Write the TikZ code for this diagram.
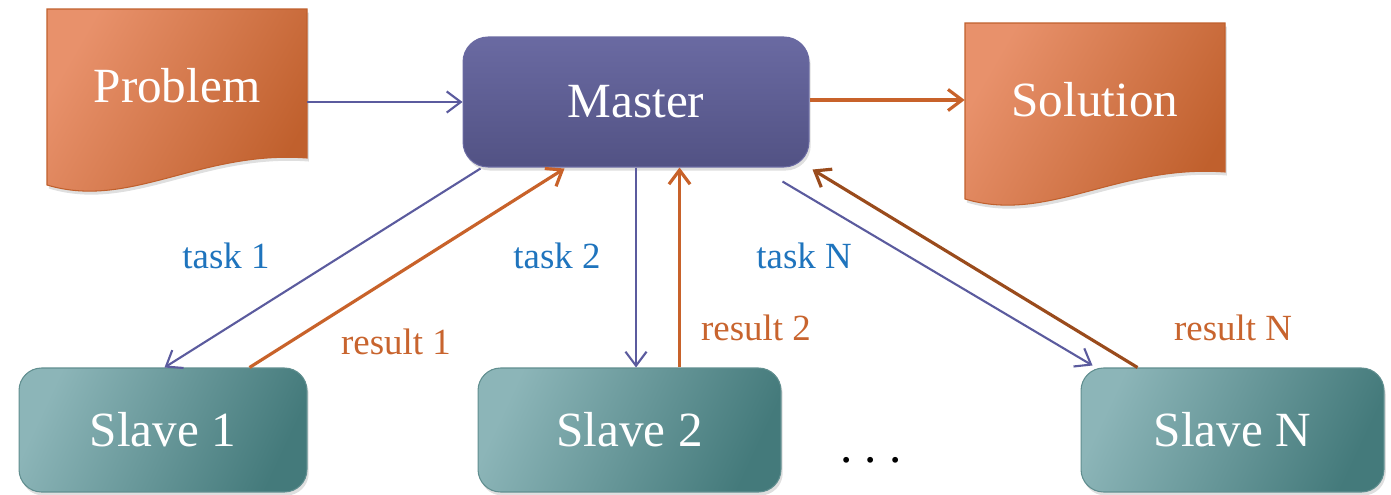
\documentclass[tikz,border=0pt]{standalone}
\usepackage{fontspec}
\setmainfont{Liberation Serif}
\usetikzlibrary{arrows.meta,calc,shadows}

\definecolor{docl}{HTML}{E8916B}
\definecolor{docd}{HTML}{C0602D}
\definecolor{slavel}{HTML}{8CB5B8}
\definecolor{slaved}{HTML}{447A7B}
\definecolor{mastert}{HTML}{6A6AA2}
\definecolor{masterm}{HTML}{58588B}
\definecolor{masterb}{HTML}{525284}
\definecolor{taskline}{HTML}{5B5B9E}
\definecolor{resline}{HTML}{C8622A}
\definecolor{resdark}{HTML}{9A4B1C}
\definecolor{tasktext}{HTML}{1F74BD}
\definecolor{restext}{HTML}{C8642E}

\begin{document}
\begin{tikzpicture}[x=0.02cm, y=-0.02cm,
  doc/.style={top color=docl, bottom color=docd, shading angle=60, draw=docd, line width=0.6pt,
    drop shadow={opacity=0.25, shadow xshift=1pt, shadow yshift=-2pt}},
  doclabel/.style={text=white, font=\fontsize{28}{32}\selectfont, minimum width=5.2cm, minimum height=2cm, inner sep=0pt},
  masterbox/.style={rounded corners=0.5cm, top color=mastert, middle color=masterm, bottom color=masterb,
    draw=mastert, line width=0.6pt, minimum width=6.92cm, minimum height=2.6cm, inner sep=0pt,
    text=white, font=\fontsize{28}{32}\selectfont,
    drop shadow={opacity=0.25, shadow xshift=1pt, shadow yshift=-2pt}},
  slavebox/.style={rounded corners=0.45cm, top color=slavel, bottom color=slaved, shading angle=65,
    draw=slaved!85!white, line width=0.6pt, minimum height=2.48cm, inner sep=0pt,
    text=white, font=\fontsize{28}{32}\selectfont,
    drop shadow={opacity=0.25, shadow xshift=1pt, shadow yshift=-2pt}},
  task/.style={draw=taskline, line width=1.2pt, -{Straight Barb[length=8pt,width=12pt]}},
  result/.style={draw=resline, line width=1.8pt, -{Straight Barb[length=8pt,width=12pt]}},
  tasklabel/.style={text=tasktext, font=\fontsize{21}{24}\selectfont},
  reslabel/.style={text=restext, font=\fontsize{21}{24}\selectfont}]
\useasboundingbox (0,0) rectangle (1391,494);

% documents
\foreach \nm/\txt/\dx/\dy in {problem/Problem/0/0, solution/Solution/918/14}{
  \shade[doc] (47+\dx,9+\dy) -- (307+\dx,9+\dy) -- (307+\dx,158+\dy)
    .. controls (200+\dx,150+\dy) and (130+\dx,210+\dy) .. (47+\dx,185+\dy) -- cycle;
  \node[doclabel] (\nm) at (177+\dx,86+\dy) {\txt};
}

% master and slaves
\node[masterbox] (master) at (636,102) {Master};
\node[slavebox, minimum width=5.76cm] (slaveone) at (163,430) {Slave 1};
\node[slavebox, minimum width=6.06cm] (slavetwo) at (629.5,430) {Slave 2};
\node[slavebox, minimum width=6.06cm] (slaven) at (1232.5,430) {Slave N};
\node[font=\fontsize{28}{32}\selectfont] (dots) at (871,460) {.\ .\ .};

\draw[task] (problem.east |- master.west) -- (master.west);
\draw[result] (master.east |- solution.west) -- (solution.west);

\coordinate (tone) at ($(master.south west)+(18,1)$);
\coordinate (rone) at ($(master.south west)+(102,1)$);
\coordinate (rtwo) at ($(slavetwo.north west)+(202,0)$);
\draw[task] (tone) -- ($(slaveone.north west)+(146,0)$);
\draw[result] ($(slaveone.north west)+(231,0)$) -- (rone);
\draw[task] (master.south) -- (master.south |- slavetwo.north);
\draw[result] (rtwo) -- (rtwo |- master.south);
\draw[task] ($(master.south east)+(-27,14)$) -- ($(slaven.north west)+(12,-2)$);
\draw[result, draw=resdark] ($(slaven.north west)+(57,0)$) -- ($(master.south east)+(3,2)$);

% labels
\node[tasklabel] (taskone) at (226,256) {task 1};
\node[tasklabel] (tasktwo) at (557,256) {task 2};
\node[tasklabel] (taskn) at (804,256) {task N};
\node[reslabel] (resone) at (396,342) {result 1};
\node[reslabel] (restwo) at (756,328) {result 2};
\node[reslabel] (resn) at (1233,328) {result N};
\end{tikzpicture}
\end{document}
